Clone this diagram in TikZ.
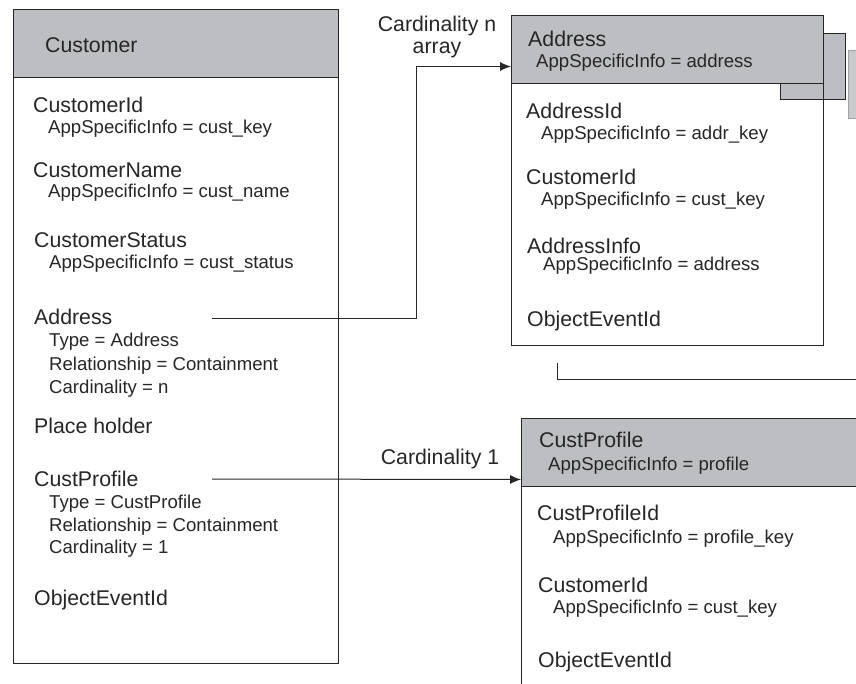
\documentclass[tikz,border=0pt]{standalone}
\usepackage{fontspec}
\setmainfont{Liberation Sans}
\usepackage{xcolor}
\usetikzlibrary{arrows.meta,positioning}

\definecolor{hdrgray}{HTML}{BDBEC1}
\definecolor{inkgray}{HTML}{262626}
\definecolor{faintgray}{HTML}{C9CACC}

\tikzset{
  field/.style={anchor=base west,inner sep=0pt,text=inkgray,font=\fontsize{21.3}{24}\selectfont},
  attr/.style={anchor=base west,inner sep=0pt,text=inkgray,font=\fontsize{18.6}{21}\selectfont},
  header/.style={draw=inkgray,fill=hdrgray,line width=1pt,anchor=north west,inner sep=0pt},
  body/.style={draw=inkgray,line width=1pt,anchor=north west,inner sep=0pt},
  link/.style={draw=inkgray,line width=1pt},
  linktip/.style={-{Latex[length=11pt,width=9pt]}},
}

\begin{document}
\begin{tikzpicture}[x=1pt,y=-1pt]
    \useasboundingbox (0,0) rectangle (856,683);
    \clip (0,0) rectangle (856,683);

    % Stacked boxes behind Address
    \draw[fill=faintgray,draw=faintgray!80!black,line width=0.8pt] (848,50) rectangle (880,118);
    \draw[fill=hdrgray,draw=inkgray,line width=1pt] (780,33) rectangle (845,99);

    % Customer box
    \node[header,minimum width=325pt,minimum height=68pt] (custhead) at (13,9) {};
    \node[body,minimum width=325pt,minimum height=586pt] (custbody) at (13,77) {};
    \node[field] (custtitle) at (45,52) {Customer};

    \node[field] (custid) at (33,112) {CustomerId};
    \node[attr] (custidinfo) at (48,133) {AppSpecificInfo = cust\_key};
    \node[field] (custname) at (33,177) {CustomerName};
    \node[attr] (custnameinfo) at (48,197) {AppSpecificInfo = cust\_name};
    \node[field] (custstatus) at (34,247) {CustomerStatus};
    \node[attr] (custstatusinfo) at (49,268) {AppSpecificInfo = cust\_status};

    \node[field] (custaddr) at (34,324) {Address};
    \node[attr] (custaddrtype) at (49,346) {Type = Address};
    \node[attr] (custaddrrel) at (49,370) {Relationship = Containment};
    \node[attr] (custaddrcard) at (49,393) {Cardinality = n};

    \node[field] (placeholder) at (34,433) {Place holder};

    \node[field] (custprof) at (34,486) {CustProfile};
    \node[attr] (custproftype) at (49,508) {Type = CustProfile};
    \node[attr] (custprofrel) at (49,531) {Relationship = Containment};
    \node[attr] (custprofcard) at (49,553) {Cardinality = 1};

    \node[field] (custevent) at (34,605) {ObjectEventId};

    % Address box
    \node[header,minimum width=312pt,minimum height=68pt] (addrhead) at (511,15) {};
    \node[body,minimum width=312pt,minimum height=262pt] (addrbody) at (511,83) {};
    \node[field] (addrtitle) at (528,46) {Address};
    \node[attr] (addrtitleinfo) at (536,67) {AppSpecificInfo = address};

    \node[field] (addrid) at (526,118) {AddressId};
    \node[attr] (addridinfo) at (541,139) {AppSpecificInfo = addr\_key};
    \node[field] (addrcustid) at (526,184) {CustomerId};
    \node[attr] (addrcustidinfo) at (541,205) {AppSpecificInfo = cust\_key};
    \node[field] (addrinfo) at (527,253) {AddressInfo};
    \node[attr] (addrinfoinfo) at (543,270) {AppSpecificInfo = address};
    \node[field] (addrevent) at (527,326) {ObjectEventId};

    % Bracket below Address box
    \coordinate (bracketstart) at (557,363);
    \coordinate (bracketend) at (870,379);
    \draw[link] (bracketstart) |- (bracketend);

    % CustProfile box
    \node[header,minimum width=360pt,minimum height=68pt] (profhead) at (521,418) {};
    \node[body,minimum width=360pt,minimum height=230pt] (profbody) at (521,486) {};
    \node[field] (proftitle) at (539,447) {CustProfile};
    \node[attr] (proftitleinfo) at (548,470) {AppSpecificInfo = profile};

    \node[field] (profid) at (537,520) {CustProfileId};
    \node[attr] (profidinfo) at (553,543) {AppSpecificInfo = profile\_key};
    \node[field] (profcustid) at (538,592) {CustomerId};
    \node[attr] (profcustidinfo) at (553,613) {AppSpecificInfo = cust\_key};
    \node[field] (profevent) at (538,667) {ObjectEventId};

    % Connectors
    \coordinate (addrout) at (212,318);
    \coordinate (addrbend) at (416,318);
    \draw[link,linktip] (addrout) -- (addrbend) |- ([yshift=-17pt]addrhead.west);
    \node[field,anchor=base] (cardn) at (437,31) {Cardinality n};
    \node[field,anchor=base] (cardarray) at (437,53) {array};

    \coordinate (profout) at (212,479);
    \draw[link,linktip] (profout) -- ([yshift=-27pt]profhead.west);
    \node[field,anchor=base] (cardone) at (440,464) {Cardinality 1};
\end{tikzpicture}
\end{document}
